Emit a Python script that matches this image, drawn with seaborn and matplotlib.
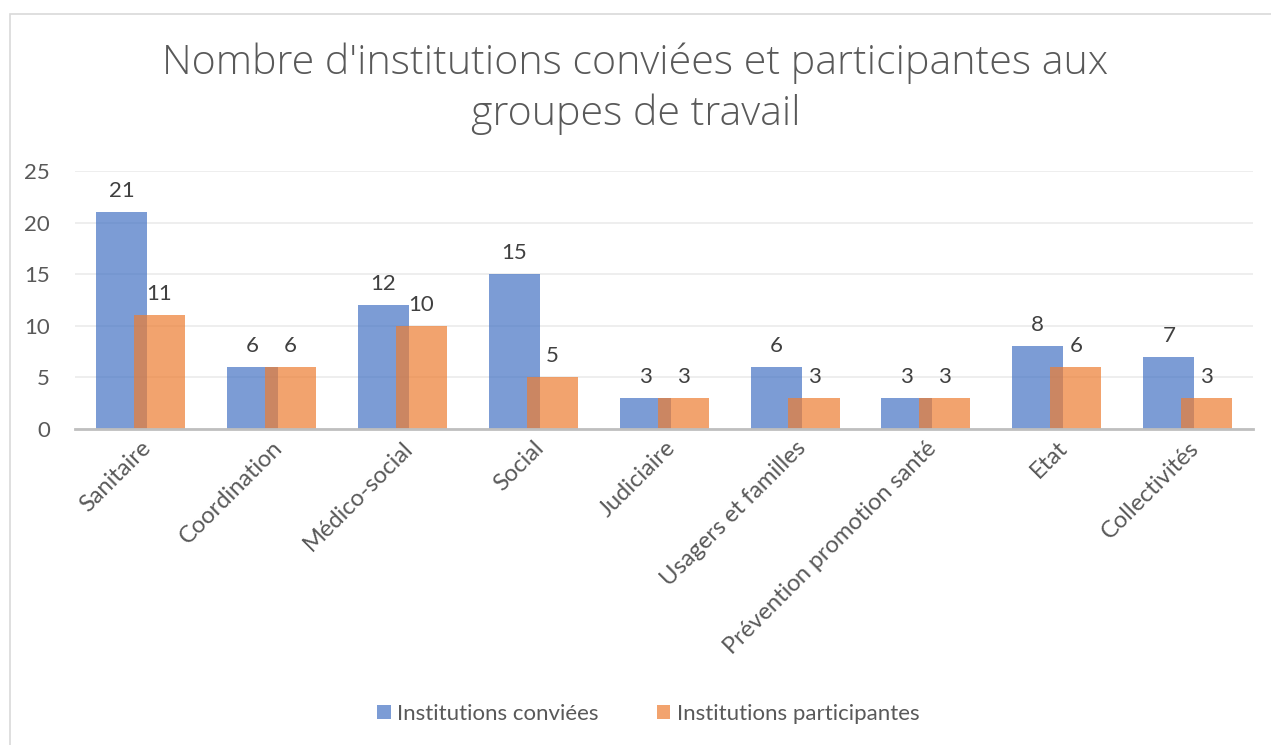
import matplotlib
matplotlib.use("Agg")
import matplotlib.pyplot as plt
import seaborn as sns
import pandas as pd
from matplotlib.patches import Rectangle, Patch

categories = ["Sanitaire", "Coordination", "Médico-social", "Social", "Judiciaire",
              "Usagers et familles", "Prévention promotion santé", "Etat", "Collectivités"]
conviees = [21, 6, 12, 15, 3, 6, 3, 8, 7]
participantes = [11, 6, 10, 5, 3, 3, 3, 6, 3]
series_names = ["Institutions conviées", "Institutions participantes"]
title = "Nombre d'institutions conviées et participantes aux\ngroupes de travail"

df = pd.DataFrame({
    "cat": categories * 2,
    "val": conviees + participantes,
    "serie": [series_names[0]] * len(categories) + [series_names[1]] * len(categories),
})

sns.set_theme(style="white")
plt.rcParams['font.family'] = ['Lato', 'DejaVu Sans']
text_col = "#595959"

fig = plt.figure(figsize=(12.71, 7.45), dpi=100)
ax = fig.add_axes([0.059, 0.4242, 0.927, 0.3463])

palette = {series_names[0]: "#4472C4", series_names[1]: "#ED7D31"}
sns.barplot(data=df, x="cat", y="val", hue="serie", palette=palette, width=0.78,
            dodge=True, saturation=1, alpha=0.7, ax=ax, legend=False, errorbar=None)

shift = 0.05
for i, cont in enumerate(ax.containers):
    for p in cont:
        p.set_x(p.get_x() + (shift if i == 0 else -shift))
        p.set_linewidth(0)
    ax.bar_label(cont, padding=8, fontsize=16, color="#404040")

ax.set_ylim(0, 25)
ax.set_xlim(-0.5, len(categories) - 0.5)
ax.set_yticks([0, 5, 10, 15, 20, 25])
ax.yaxis.grid(True, color="#EBEBEB", linewidth=1.2)
ax.set_axisbelow(True)
for s in ["top", "right", "left"]:
    ax.spines[s].set_visible(False)
ax.spines["bottom"].set_color("#BFBFBF")
ax.spines["bottom"].set_linewidth(2)
ax.tick_params(axis="both", length=0, labelsize=16, colors=text_col)
ax.tick_params(axis="x", labelsize=17, pad=6)
ax.tick_params(axis="y", pad=18)
ax.set_xlabel("")
ax.set_ylabel("")
plt.setp(ax.get_xticklabels(), rotation=45, ha="right", rotation_mode="anchor")

fig.text(0.5, 0.881, title, ha="center", va="center", fontsize=29.6, color=text_col,
         family=["Open Sans", "DejaVu Sans"], fontweight="light", linespacing=1.3)

handles = [Patch(facecolor=palette[n], alpha=0.7, edgecolor="none") for n in series_names]
fig.legend(handles, series_names, loc="center", bbox_to_anchor=(0.51, 0.042), ncol=2,
           frameon=False, fontsize=16, labelcolor=text_col, handlelength=0.6,
           handleheight=0.6, columnspacing=2.6, handletextpad=0.3)

fig.patches.append(Rectangle((10 / 1271, -0.01), 1.1, 1 - 14 / 745 + 0.01,
                             transform=fig.transFigure, fill=False,
                             edgecolor="#D9D9D9", linewidth=1.2))

fig.savefig("out.png", dpi=100)
